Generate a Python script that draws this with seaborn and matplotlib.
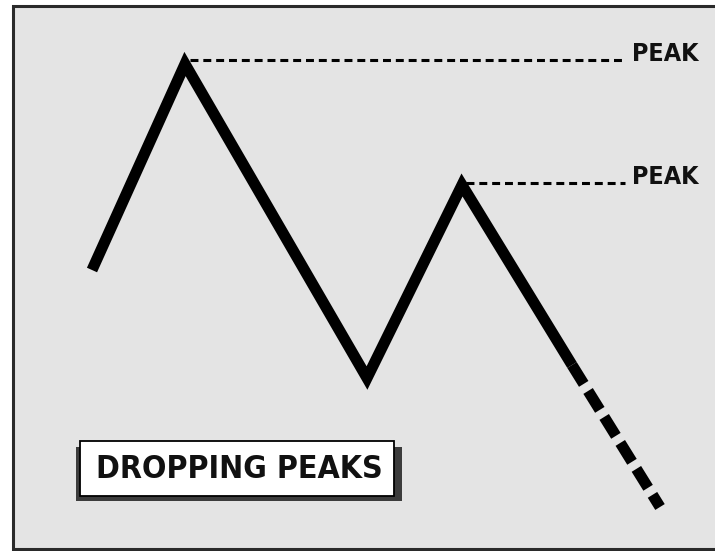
import pandas as pd
import matplotlib.pyplot as plt
import matplotlib.patches as mpatches
import seaborn as sns

# price path (pixel-like units, y grows downward)
path_x = [92, 185, 367, 462, 572]
path_y = [270, 64, 378, 185, 365]
# projected continuation
proj_x = [572, 660]
proj_y = [365, 507]
# peaks with their reference lines
peak_x = [190, 466]
peak_y = [60, 183]
peak_line_end = 625
peak_labels = ["PEAK", "PEAK"]
title = "DROPPING PEAKS"

sns.set_theme(style="white")
plt.rcParams['font.family'] = ['DejaVu Sans']

fig = plt.figure(figsize=(7.15, 5.51), dpi=100)
fig.patch.set_facecolor("white")
ax = fig.add_axes([0, 0, 1, 1])
ax.set_xlim(0, 715)
ax.set_ylim(551, 0)
ax.axis("off")

# panel with frame
ax.add_patch(mpatches.Rectangle((12.5, 5.5), 720, 543.5, facecolor="#e4e4e4",
                                edgecolor="#2a2a2a", linewidth=2.2, zorder=0))

df = pd.DataFrame({"x": path_x, "y": path_y})
sns.lineplot(data=df, x="x", y="y", sort=False, color="black", linewidth=8,
             ax=ax, zorder=3)
ax.lines[-1].set_solid_capstyle("butt")
ax.lines[-1].set_solid_joinstyle("miter")

dfp = pd.DataFrame({"x": proj_x, "y": proj_y})
sns.lineplot(data=dfp, x="x", y="y", sort=False, color="black", linewidth=8,
             ax=ax, zorder=3)
ax.lines[-1].set_dashes((2.0, 0.75))
ax.lines[-1].set_dash_capstyle("butt")

for px, py, lab in zip(peak_x, peak_y, peak_labels):
    sns.lineplot(x=[px, peak_line_end], y=[py, py], color="black", linewidth=2.2,
                 ax=ax, zorder=2)
    ax.lines[-1].set_dashes((2.6, 1.6))
    ax.text(peak_line_end + 7, py + 1, lab, fontsize=18, fontweight="bold",
            fontstretch="condensed", ha="left", va="baseline", color="#111111")

# label box with drop shadow
ax.add_patch(mpatches.Rectangle((76, 447), 326, 54, facecolor="#3c3c3c",
                                edgecolor="none", zorder=4))
ax.add_patch(mpatches.Rectangle((80, 441), 314, 55, facecolor="white",
                                edgecolor="black", linewidth=1.3, zorder=5))
ax.text(239, 469, title, fontsize=23, fontweight="bold", fontstretch="condensed",
        ha="center", va="center", color="#111111", zorder=6)

fig.savefig("out.png", dpi=100)
